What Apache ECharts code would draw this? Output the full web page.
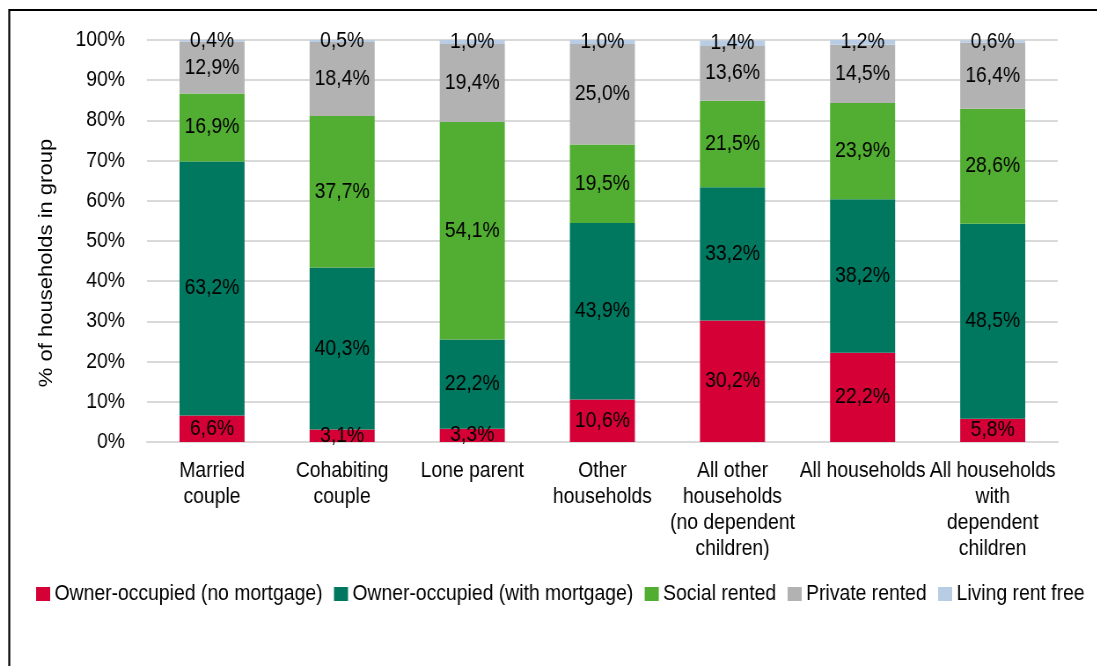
<!DOCTYPE html>
<html>
<head>
<meta charset="utf-8">
<script src="https://cdn.jsdelivr.net/npm/echarts@6/dist/echarts.min.js"></script>
<style>
  html, body { margin: 0; padding: 0; background: #fff; overflow: hidden; }
  /* Drawn wide, then condensed horizontally so the type reads as a narrow face */
  #chart { width: 1247px; height: 666px; transform: scaleX(0.88); transform-origin: 0 0; }
</style>
</head>
<body>
<div id="chart"></div>
<script>
// Household types (x-axis categories)
const categories = [
  'Married\ncouple',
  'Cohabiting\ncouple',
  'Lone parent',
  'Other\nhouseholds',
  'All other\nhouseholds\n(no dependent\nchildren)',
  'All households',
  'All households\nwith\ndependent\nchildren'
];

// Tenure shares, % of households in each group
const ownedOutright  = [6.6, 3.1, 3.3, 10.6, 30.2, 22.2, 5.8];
const ownedMortgage  = [63.2, 40.3, 22.2, 43.9, 33.2, 38.2, 48.5];
const socialRented   = [16.9, 37.7, 54.1, 19.5, 21.5, 23.9, 28.6];
const privateRented  = [12.9, 18.4, 19.4, 25.0, 13.6, 14.5, 16.4];
const rentFree       = [0.4, 0.5, 1.0, 1.0, 1.4, 1.2, 0.6];

const seriesNames = [
  'Owner-occupied (no mortgage)',
  'Owner-occupied (with mortgage)',
  'Social rented',
  'Private rented',
  'Living rent free'
];
const seriesData = [ownedOutright, ownedMortgage, socialRented, privateRented, rentFree];
const colors = ['#D40036', '#00785F', '#52AE32', '#B2B2B2', '#B8CCE4'];

const FONT = '"Liberation Sans", Arial, sans-serif';
const FS = 22;
const fmt = v => v.toFixed(1).replace('.', ',') + '%';

const chart = echarts.init(document.getElementById('chart'), null, { renderer: 'canvas' });

chart.setOption({
  animation: false,
  color: colors,
  textStyle: { fontFamily: FONT, color: '#000' },
  graphic: [{
    type: 'rect',
    shape: { x: 10.5, y: 10, width: 1400, height: 800 },
    style: { fill: 'none', stroke: '#000', lineWidth: 2.2 },
    silent: true
  }],
  grid: { left: 167, right: 45, top: 40, bottom: 224 },
  legend: {
    left: 36,
    top: 578,
    itemWidth: 16,
    itemHeight: 14,
    itemGap: 13,
    icon: 'rect',
    textStyle: { fontFamily: FONT, fontSize: FS, color: '#000' },
    data: seriesNames
  },
  xAxis: {
    type: 'category',
    data: categories,
    axisTick: { show: false },
    axisLine: { show: true, lineStyle: { color: '#D9D9D9', width: 2 } },
    axisLabel: {
      interval: 0,
      margin: 16,
      fontFamily: FONT,
      fontSize: FS,
      lineHeight: 26,
      color: '#000'
    }
  },
  yAxis: {
    type: 'value',
    min: 0,
    max: 100,
    interval: 10,
    name: '% of households in group',
    nameLocation: 'middle',
    nameGap: 103,
    nameTextStyle: { fontFamily: FONT, fontSize: FS, color: '#000', padding: [0, 44, 0, 0] },
    axisLine: { show: false },
    axisTick: { show: false },
    splitLine: { lineStyle: { color: '#D9D9D9', width: 2 } },
    axisLabel: {
      margin: 25,
      fontFamily: FONT,
      fontSize: FS,
      color: '#000',
      formatter: v => v + '%'
    }
  },
  series: seriesNames.map((name, i) => ({
    name,
    type: 'bar',
    stack: 'tenure',
    barWidth: '50%',
    data: seriesData[i],
    itemStyle: { color: colors[i] },
    label: {
      show: true,
      position: 'inside',
      fontFamily: FONT,
      fontSize: FS,
      color: '#000',
      formatter: p => fmt(p.value)
    }
  }))
});
</script>
</body>
</html>
